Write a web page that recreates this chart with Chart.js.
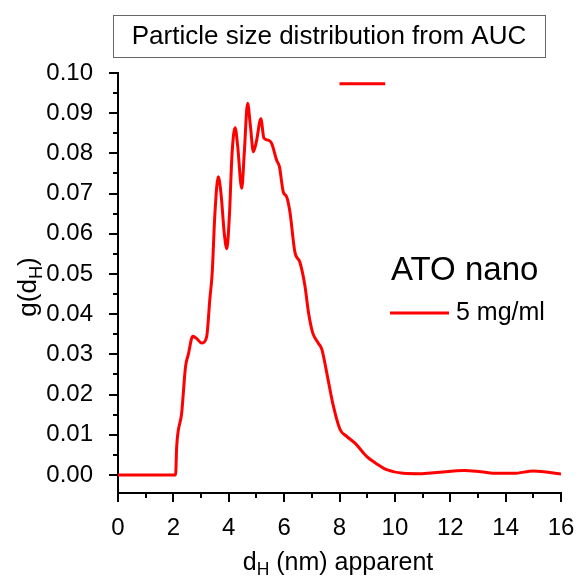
<!DOCTYPE html>
<html>
<head>
    <title>Particle size distribution from AUC</title>
    <script src="https://cdn.jsdelivr.net/npm/chart.js"></script>
    <style>
        body { margin: 0; background: #fff; }
        canvas { display: block; }
    </style>
</head>
<body>
    <canvas id="myChart" width="579" height="583"></canvas>
    <script>
        // apparent hydrodynamic diameter (nm) and g(dH)
        const dH = [0, 1.0, 2.08, 2.12, 2.30, 2.44, 2.54, 2.70, 2.86, 3.02, 3.20, 3.32, 3.40,
            3.50, 3.62, 3.72, 3.84, 3.93, 4.02, 4.12, 4.23, 4.32, 4.47, 4.56, 4.68, 4.78, 4.89,
            5.00, 5.16, 5.27, 5.43, 5.55, 5.73, 5.83, 5.97, 6.09, 6.21, 6.39, 6.57, 6.75, 6.88,
            7.03, 7.23, 7.36, 7.54, 7.78, 8.02, 8.26, 8.56, 8.98, 9.40, 9.70, 10.3, 10.9, 11.5,
            12.5, 13.1, 13.7, 14.3, 15.0, 16.0];
        const gValues = [0, 0, 0, 0.0071, 0.0154, 0.0270, 0.0300, 0.0345, 0.0338, 0.0328, 0.0343, 0.0440, 0.0500,
            0.0650, 0.0742, 0.0700, 0.0600, 0.0563, 0.0640, 0.0800, 0.0864, 0.0820, 0.0713, 0.0800, 0.0925, 0.0870, 0.0804,
            0.0830, 0.0886, 0.0838, 0.0833, 0.0825, 0.0783, 0.0767, 0.0704, 0.0692, 0.0654, 0.0554, 0.0529, 0.0471, 0.0404,
            0.0354, 0.0328, 0.0313, 0.0254, 0.0171, 0.0113, 0.0096, 0.0079, 0.0046, 0.0025, 0.0013, 0.0004, 0.0003, 0.0006,
            0.0011, 0.0008, 0.0004, 0.0004, 0.0010, 0.0002];

        // short stray red segment near the top of the frame
        const stubX = [8.0, 9.65];
        const stubY = [0.0973, 0.0973];

        const xTicks = [0, 2, 4, 6, 8, 10, 12, 14, 16];
        const yTicks = [0, 0.01, 0.02, 0.03, 0.04, 0.05, 0.06, 0.07, 0.08, 0.09, 0.10];

        const seriesLabel = '5 mg/ml';
        const legendTitle = 'ATO nano';
        const chartTitle = 'Particle size distribution from AUC';

        const RED = '#ff0000';
        const FONT = '"Liberation Sans", Arial, sans-serif';

        const toPoints = (xs, ys) => xs.map((x, i) => ({ x: x, y: ys[i] }));

        // text with a subscript piece, e.g. d + H
        function drawSub(c, parts, x, y, size) {
            let w = 0;
            parts.forEach(p => {
                c.font = (p.sub ? size * 0.7 : size) + 'px ' + FONT;
                w += c.measureText(p.t).width;
            });
            let cx = x - w / 2;
            parts.forEach(p => {
                c.font = (p.sub ? size * 0.7 : size) + 'px ' + FONT;
                c.fillText(p.t, cx, p.sub ? y + size * 0.3 : y);
                cx += c.measureText(p.t).width;
            });
        }

        const decor = {
            id: 'decor',
            afterDraw(chart) {
                const c = chart.ctx;
                const xs = chart.scales.x, ys = chart.scales.y;
                const left = chart.chartArea.left, bottom = chart.chartArea.bottom;
                c.save();
                c.strokeStyle = '#000';
                c.lineWidth = 2;
                // y ticks (major + minor)
                for (let v = 0; v <= 0.1001; v += 0.005) {
                    const py = Math.round(ys.getPixelForValue(v));
                    const major = Math.abs(v * 100 - Math.round(v * 100)) < 1e-6;
                    c.beginPath();
                    c.moveTo(left, py);
                    c.lineTo(left - (major ? 9 : 5), py);
                    c.stroke();
                }
                // x ticks (major + minor)
                for (let v = 0; v <= 16; v += 1) {
                    const px = Math.round(xs.getPixelForValue(v));
                    c.beginPath();
                    c.moveTo(px, bottom);
                    c.lineTo(px, bottom + (v % 2 === 0 ? 9 : 5));
                    c.stroke();
                }

                // title box
                c.lineWidth = 1;
                c.strokeStyle = '#666';
                c.strokeRect(113.5, 15.5, 432, 42);
                c.fillStyle = '#000';
                c.textAlign = 'center';
                c.textBaseline = 'middle';
                c.font = '26px ' + FONT;
                c.fillText(chartTitle, 329, 37);

                // legend
                c.font = '33px ' + FONT;
                c.textAlign = 'left';
                c.fillText(legendTitle, 391, 271);
                c.strokeStyle = RED;
                c.lineWidth = 3;
                c.beginPath();
                c.moveTo(390, 313);
                c.lineTo(449, 313);
                c.stroke();
                c.font = '25px ' + FONT;
                c.fillText(seriesLabel, 456, 313);

                // axis titles
                c.textAlign = 'left';
                drawSub(c, [{ t: 'd' }, { t: 'H', sub: true }, { t: ' (nm) apparent' }], 338, 563, 25);
                c.translate(29, 287);
                c.rotate(-Math.PI / 2);
                drawSub(c, [{ t: 'g(d' }, { t: 'H', sub: true }, { t: ')' }], 0, 0, 26);
                c.restore();
            }
        };

        const ctx = document.getElementById('myChart').getContext('2d');
        const myChart = new Chart(ctx, {
            type: 'line',
            data: {
                datasets: [{
                    label: seriesLabel,
                    data: toPoints(dH, gValues),
                    borderColor: RED,
                    borderWidth: 3,
                    pointRadius: 0,
                    cubicInterpolationMode: 'monotone',
                    fill: false
                }, {
                    label: '',
                    data: toPoints(stubX, stubY),
                    borderColor: RED,
                    borderWidth: 3,
                    pointRadius: 0,
                    fill: false
                }]
            },
            options: {
                responsive: false,
                animation: false,
                devicePixelRatio: 1,
                layout: { padding: { left: 0, top: 73, right: 18, bottom: 0 } },
                plugins: {
                    legend: { display: false },
                    title: { display: false },
                    tooltip: { enabled: false }
                },
                scales: {
                    x: {
                        type: 'linear',
                        min: 0,
                        max: 16,
                        afterBuildTicks: s => { s.ticks = xTicks.map(v => ({ value: v })); },
                        afterFit: s => { s.height = 90; s.paddingLeft = 0; s.paddingRight = 0; },
                        grid: { display: false },
                        border: { display: true, color: '#000', width: 2 },
                        ticks: {
                            color: '#000',
                            padding: 13,
                            maxRotation: 0,
                            font: { family: FONT, size: 24 },
                            callback: v => String(v)
                        }
                    },
                    y: {
                        type: 'linear',
                        min: -0.0045,
                        max: 0.1,
                        afterBuildTicks: s => { s.ticks = yTicks.map(v => ({ value: v })); },
                        afterFit: s => { s.width = 118; s.paddingTop = 0; s.paddingBottom = 0; },
                        grid: { display: false },
                        border: { display: true, color: '#000', width: 2 },
                        ticks: {
                            color: '#000',
                            padding: 17,
                            font: { family: FONT, size: 24 },
                            callback: v => v.toFixed(2)
                        }
                    }
                }
            },
            plugins: [decor]
        });
    </script>
</body>
</html>
